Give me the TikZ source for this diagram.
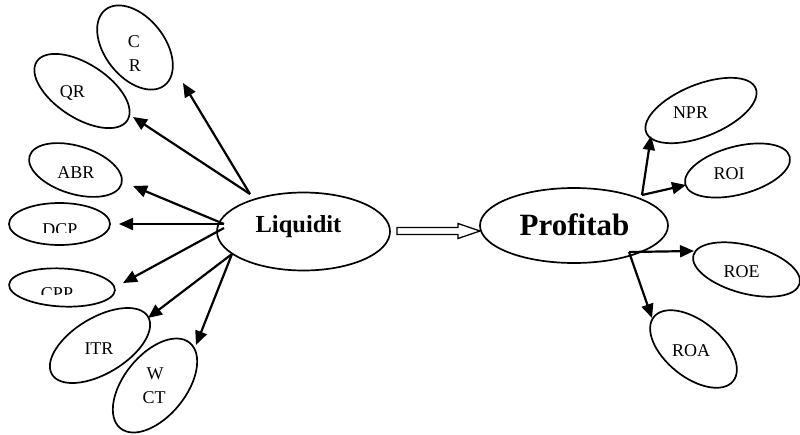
\documentclass[tikz,border=0pt]{standalone}
\usepackage{fontspec}
\setmainfont{Liberation Serif}
\usetikzlibrary{shapes.geometric,arrows.meta,calc}
\begin{document}
\begin{tikzpicture}[x=1pt,y=1pt,
  oval/.style={draw, ellipse, inner sep=0pt, line width=1.7pt},
  lbl/.style={font=\fontsize{18}{18}\selectfont, anchor=base, inner sep=0pt},
  biglbl/.style={font=\fontsize{24.5}{24.5}\selectfont\bfseries, anchor=base, inner sep=0pt},
  hugelbl/.style={font=\fontsize{31}{31}\selectfont\bfseries, anchor=base, inner sep=0pt},
  conn/.style={line width=2.2pt, -{Triangle[length=14pt,width=12pt]}}]
\useasboundingbox (0,0) rectangle (800,-434);
\fill[white] (0,0) rectangle (800,-434);

% ellipses
\node[oval, minimum width=96pt, minimum height=60pt, rotate=-52] (cr) at (135,-47.5) {};
\node[oval, minimum width=108pt, minimum height=54pt, rotate=-33] (qr) at (82,-91) {};
\node[oval, minimum width=96pt, minimum height=48pt, rotate=-17] (abr) at (75.5,-170) {};
\node[oval, minimum width=101pt, minimum height=42pt] (dcp) at (59.5,-224) {};
\node[oval, minimum width=106pt, minimum height=38pt, rotate=-3] (cpp) at (62,-287.5) {};
\node[oval, minimum width=112pt, minimum height=56pt, rotate=31] (itr) at (100,-345.5) {};
\node[oval, minimum width=110pt, minimum height=62pt, rotate=51] (wct) at (155,-385.5) {};
\node[oval, minimum width=173pt, minimum height=78pt] (liq) at (303.5,-231.5) {};
\node[oval, minimum width=188pt, minimum height=75pt] (prof) at (574,-225.5) {};
\node[oval, minimum width=118pt, minimum height=52pt, rotate=22] (npr) at (701,-110.5) {};
\node[oval, minimum width=108pt, minimum height=48pt, rotate=15] (roi) at (737.5,-170.5) {};
\node[oval, minimum width=110pt, minimum height=48pt, rotate=-15] (roe) at (746.5,-269.5) {};
\node[oval, minimum width=102pt, minimum height=56pt, rotate=-39] (roa) at (693.5,-349) {};

% labels
\node[lbl] (crta) at (134,-47) {C};
\node[lbl] (crtb) at (135,-71) {R};
\node[lbl] (qrt) at (72.5,-97) {QR};
\node[lbl] (abrt) at (76,-178) {ABR};
\begin{scope}
  \clip (0,-200) rectangle (130,-232);
  \node[lbl] (dcpt) at (60,-235.5) {DCP};
\end{scope}
\begin{scope}
  \clip (0,-260) rectangle (130,-294);
  \node[lbl] (cppt) at (57,-299) {CPP};
\end{scope}
\node[lbl] (itrt) at (99,-354) {ITR};
\node[lbl] (wcta) at (155,-379) {W};
\node[lbl] (wctb) at (154,-403) {CT};
\node[biglbl] (liqt) at (298.5,-232) {Liquidit};
\node[hugelbl] (proft) at (574.5,-235) {Profitab};
\node[lbl] (nprt) at (690.5,-118) {NPR};
\node[lbl] (roit) at (729,-179) {ROI};
\node[lbl] (roet) at (741.5,-277) {ROE};
\node[lbl] (roat) at (691,-356) {ROA};

% connector coordinates
\coordinate (lq1) at (250,-194);
\coordinate (lq2) at (224,-224);
\coordinate (lq3) at (224,-228);
\coordinate (lq4) at (232,-254);
\coordinate (crtip) at (183,-83);
\coordinate (qrtip) at (133,-117);
\coordinate (abrtip) at (133,-186);
\coordinate (dcptip) at (119,-224);
\coordinate (cpptip) at (123,-283);
\coordinate (itrtip) at (148,-318);
\coordinate (wcttip) at (196,-345);

\draw[conn] (lq1) -- (crtip);
\draw[conn] (lq1) -- (qrtip);
\draw[conn] (lq2) -- (abrtip);
\draw[conn] (lq2) -- (dcptip);
\draw[conn] (lq3) -- (cpptip);
\draw[conn] (lq4) -- (itrtip);
\draw[conn] (lq4) -- (wcttip);

\coordinate (pj1) at (642,-195);
\coordinate (pj2) at (629,-252);
\coordinate (nprtip) at (651,-136);
\coordinate (roitip) at (686,-185);
\coordinate (roetip) at (694,-251);
\coordinate (roatip) at (652,-318);
\draw[conn] (pj1) -- (nprtip);
\draw[conn] (pj1) -- (roitip);
\draw[conn] (pj2) -- (roetip);
\draw[conn] (pj2) -- (roatip);

% hollow arrow
\coordinate (h1) at (397,-231);
\coordinate (h2) at (480,-231);
\draw[line width=1.3pt, line join=miter]
  ($(h1)+(0,3.5)$) -- ($(h2)+(-22,3.5)$) -- ($(h2)+(-22,7.5)$) -- (h2)
  -- ($(h2)+(-22,-7.5)$) -- ($(h2)+(-22,-3.5)$) -- ($(h1)+(0,-3.5)$) -- cycle;
\end{tikzpicture}
\end{document}
